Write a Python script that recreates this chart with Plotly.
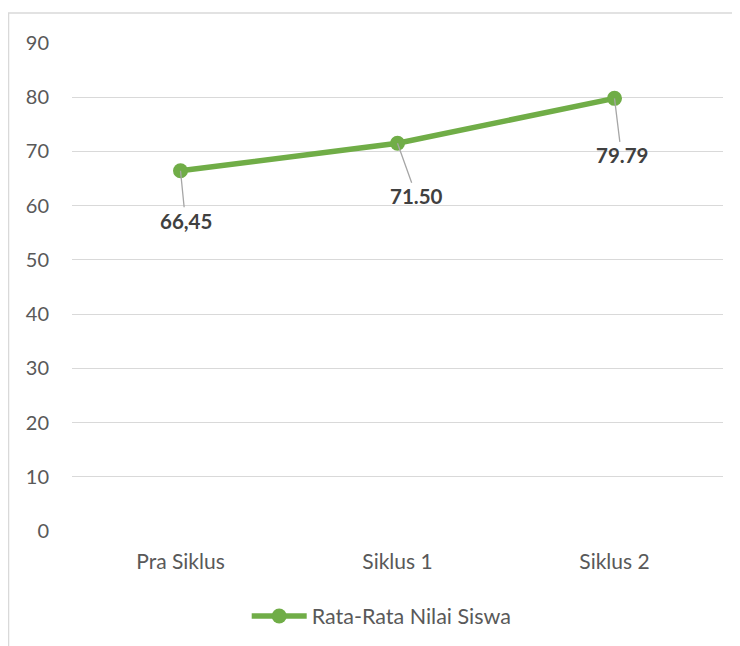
import plotly.graph_objects as go

categories = ["Pra Siklus", "Siklus 1", "Siklus 2"]
values = [66.45, 71.50, 79.79]
value_labels = ["66,45", "71.50", "79.79"]
series_name = "Rata-Rata Nilai Siswa"
y_ticks = list(range(0, 100, 10))

label_offsets = [(5, 50), (19, 53), (7, 57)]

FONT = "Lato"
GREEN = "#70AD47"

fig = go.Figure()
fig.add_trace(go.Scatter(
    x=categories, y=values, mode="lines+markers", name=series_name,
    line=dict(color=GREEN, width=5.5),
    marker=dict(color=GREEN, size=15),
))

for c, v, t, (ax, ay) in zip(categories, values, value_labels, label_offsets):
    fig.add_annotation(
        x=c, y=v, text="<b>%s</b>" % t, showarrow=True, arrowhead=0,
        arrowwidth=1.3, arrowcolor="#A6A6A6", ax=ax, ay=ay,
        font=dict(family=FONT, size=20.5, color="#404040"),
        standoff=0, startstandoff=0,
    )

# outer border (top and left visible)
fig.add_shape(type="rect", xref="paper", yref="paper",
              x0=-0.0975, x1=1.2, y0=-0.4, y1=1.0615,
              line=dict(color="#D9D9D9", width=1.5), layer="below")

fig.update_layout(
    width=740, height=646,
    margin=dict(l=64, r=25, t=35, b=123, autoexpand=False),
    paper_bgcolor="white", plot_bgcolor="white",
    font=dict(family=FONT, size=20, color="#595959"),
    showlegend=True,
    legend=dict(orientation="h", x=0.505, xanchor="center", xref="container",
                y=0.0588, yanchor="middle", yref="container", itemwidth=55,
                font=dict(family=FONT, size=21.5, color="#595959")),
    xaxis=dict(range=[-0.5, 2.5], showgrid=False, showline=False, zeroline=False,
               ticks="", ticklabelstandoff=16, automargin=False,
               tickfont=dict(size=21)),
    yaxis=dict(range=[0, 90], tickvals=y_ticks, showgrid=True, gridcolor="#D9D9D9",
               gridwidth=1.3, zeroline=False, showline=False, ticks="",
               ticklabelstandoff=22, automargin=False),
)

fig.write_html("out.html")
